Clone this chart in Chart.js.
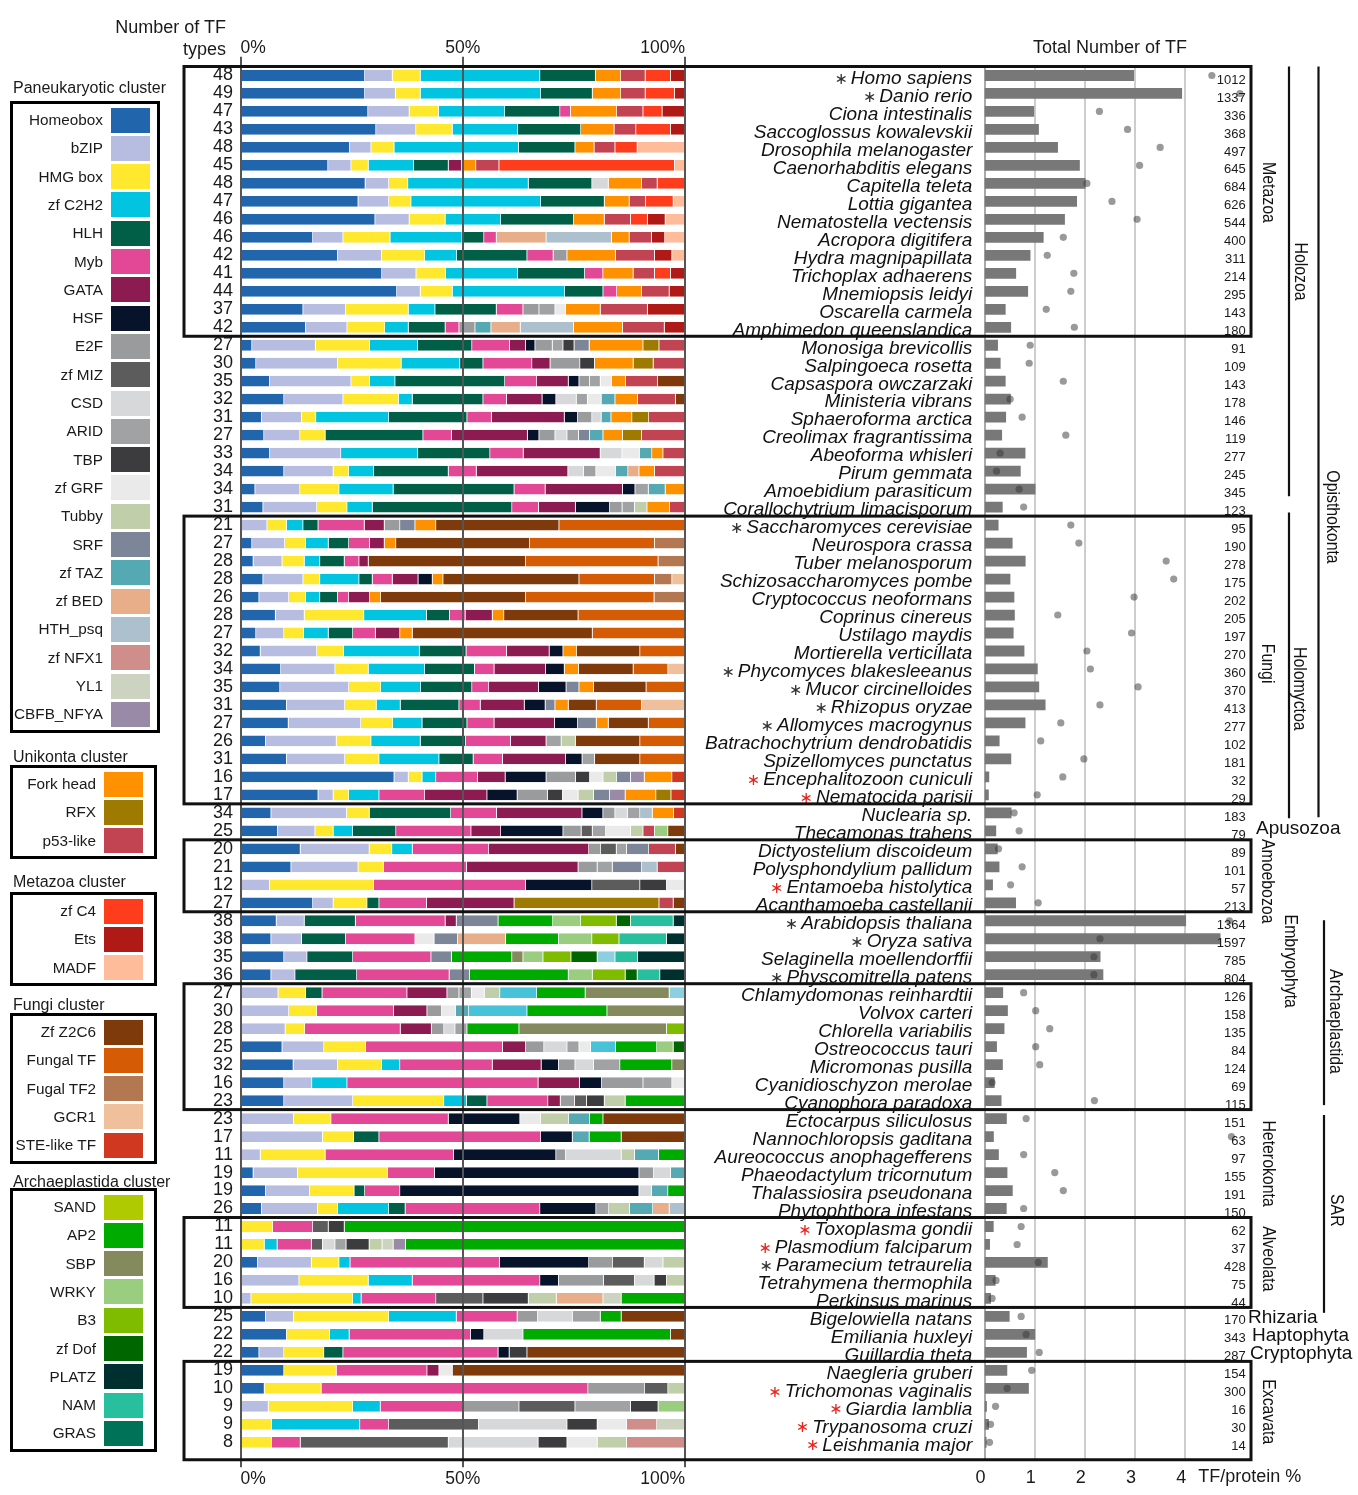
<!DOCTYPE html>
<html>
<head>
<meta charset="utf-8">
<title>Transcription factor repertoires across eukaryotes</title>
<script src="https://cdn.jsdelivr.net/npm/chart.js@4.4.1/dist/chart.umd.min.js"></script>
<style>
  html, body { margin: 0; padding: 0; background: #fff; }
  #page { position: relative; width: 1358px; height: 1495px; overflow: hidden;
          font-family: 'Liberation Sans', Arial, Helvetica, sans-serif; color: #1a1a1a; }
  #page canvas { position: absolute; left: 0; top: 0; }
  .lg-title { position: absolute; font-size: 16px; line-height: 20px; white-space: nowrap; z-index: 3; }
  .lg-box { position: absolute; border: 3px solid #000; box-sizing: border-box; z-index: 3; }
  .lg-label { position: absolute; font-size: 15.3px; line-height: 20px; white-space: nowrap; text-align: right; z-index: 3; }
  .lg-swatch { position: absolute; z-index: 3; }
  .hdr { position: absolute; font-size: 18px; line-height: 22px; white-space: nowrap; text-align: right; z-index: 3; }
</style>
</head>
<body>
<div id="page">
  <canvas id="shares" width="1358" height="1495"></canvas>
  <canvas id="totals" width="1358" height="1495"></canvas>
  <div class="hdr" style="right:1132px; top:16px;">Number of TF</div>
  <div class="hdr" style="right:1132px; top:38px;">types</div>
</div>
<script>
// ---------------------------------------------------------------------------
// Species (rows, top to bottom)
// ---------------------------------------------------------------------------
const species = [
  'Homo sapiens','Danio rerio','Ciona intestinalis','Saccoglossus kowalevskii','Drosophila melanogaster',
  'Caenorhabditis elegans','Capitella teleta','Lottia gigantea','Nematostella vectensis','Acropora digitifera',
  'Hydra magnipapillata','Trichoplax adhaerens','Mnemiopsis leidyi','Oscarella carmela','Amphimedon queenslandica',
  'Monosiga brevicollis','Salpingoeca rosetta','Capsaspora owczarzaki','Ministeria vibrans','Sphaeroforma arctica',
  'Creolimax fragrantissima','Abeoforma whisleri','Pirum gemmata','Amoebidium parasiticum','Corallochytrium limacisporum',
  'Saccharomyces cerevisiae','Neurospora crassa','Tuber melanosporum','Schizosaccharomyces pombe','Cryptococcus neoformans',
  'Coprinus cinereus','Ustilago maydis','Mortierella verticillata','Phycomyces blakesleeanus','Mucor circinelloides',
  'Rhizopus oryzae','Allomyces macrogynus','Batrachochytrium dendrobatidis','Spizellomyces punctatus','Encephalitozoon cuniculi',
  'Nematocida parisii',
  'Nuclearia sp.','Thecamonas trahens',
  'Dictyostelium discoideum','Polysphondylium pallidum','Entamoeba histolytica','Acanthamoeba castellanii',
  'Arabidopsis thaliana','Oryza sativa','Selaginella moellendorffii','Physcomitrella patens',
  'Chlamydomonas reinhardtii','Volvox carteri','Chlorella variabilis','Ostreococcus tauri','Micromonas pusilla',
  'Cyanidioschyzon merolae','Cyanophora paradoxa',
  'Ectocarpus siliculosus','Nannochloropsis gaditana','Aureococcus anophagefferens','Phaeodactylum tricornutum',
  'Thalassiosira pseudonana','Phytophthora infestans',
  'Toxoplasma gondii','Plasmodium falciparum','Paramecium tetraurelia','Tetrahymena thermophila','Perkinsus marinus',
  'Bigelowiella natans','Emiliania huxleyi','Guillardia theta',
  'Naegleria gruberi','Trichomonas vaginalis','Giardia lamblia','Trypanosoma cruzi','Leishmania major'
];

// Number of TF types per species
const typeCounts = [
  48,49,47,43,48,45,48,47,46,46,42,41,44,37,42,
  27,30,35,32,31,27,33,34,34,31,
  21,27,28,28,26,28,27,32,34,35,31,27,26,31,16,17,
  34,25,
  20,21,12,27,
  38,38,35,36,
  27,30,28,25,32,16,23,
  23,17,11,19,19,26,
  11,11,20,16,10,
  25,22,22,
  19,10,9,9,8
];

// Total number of TFs per species
const totalTF = [
  1012,1337,336,368,497,645,684,626,544,400,311,214,295,143,180,
  91,109,143,178,146,119,277,245,345,123,
  95,190,278,175,202,205,197,270,360,370,413,277,102,181,32,29,
  183,79,
  89,101,57,213,
  1364,1597,785,804,
  126,158,135,84,124,69,115,
  151,63,97,155,191,150,
  62,37,428,75,44,
  170,343,287,
  154,300,16,30,14
];

// TFs as a share of the proteome (%)
const tfProteinPct = [
  4.53,5.09,2.29,2.85,3.50,3.09,2.04,2.54,3.04,1.57,1.25,1.78,1.72,1.23,1.79,
  0.91,0.89,1.57,0.51,0.75,1.62,0.31,0.24,0.69,0.78,
  1.72,1.88,3.62,3.77,2.98,1.46,2.93,2.04,2.11,3.06,2.30,1.52,1.12,1.98,1.56,1.05,
  0.59,0.69,
  0.28,0.75,0.52,1.07,
  4.88,2.30,2.18,2.18,
  0.78,1.02,1.30,1.02,1.10,0.15,2.19,
  0.83,4.92,0.78,1.40,1.57,0.78,
  0.73,0.65,1.07,0.23,0.15,
  0.73,0.83,1.09,
  0.94,0.45,0.22,0.12,0.10
];

const markedBlack = ['Homo sapiens','Danio rerio','Saccharomyces cerevisiae','Phycomyces blakesleeanus',
  'Mucor circinelloides','Rhizopus oryzae','Allomyces macrogynus','Arabidopsis thaliana','Oryza sativa',
  'Physcomitrella patens','Paramecium tetraurelia'];
const markedRed = ['Encephalitozoon cuniculi','Nematocida parisii','Entamoeba histolytica','Toxoplasma gondii',
  'Plasmodium falciparum','Trichomonas vaginalis','Giardia lamblia','Trypanosoma cruzi','Leishmania major'];

const percentTicks = [0, 50, 100];
const ratioTicks = [0, 1, 2, 3, 4];

// ---------------------------------------------------------------------------
// Share of each TF family in every species (% of TFs). Rows grouped by clade:
// Metazoa | other Holozoa | Fungi | Nuclearia, Thecamonas | Amoebozoa |
// Embryophyta | algae | Heterokonta | Alveolata | Rhizaria, Haptophyta, Cryptophyta | Excavata
// ---------------------------------------------------------------------------
const homeobox = [
  28.0,28.0,28.7,30.5,24.6,19.7,28.1,26.5,30.3,16.3,21.9,31.8,35.2,14.1,14.7,
  2.6,3.5,6.6,9.8,4.8,5.3,6.6,9.8,3.3,5.1,
  0,2.6,2.9,5.1,4.2,7.9,3.5,4.5,9.1,8.9,10.4,10.8,5.7,10.4,34.6,17.5,
  6.9,8.4,
  13.5,11.4,0,16.3,
  8.1,6.9,9.8,6.9,
  0,0,0,9.4,11.9,9.8,9.8,
  0,0,0,2.9,5.7,4.8,
  0,0,3.9,0,0,
  5.7,10.4,4.2,
  9.8,5.4,0,0,0
];
const bzip = [
  6.2,6.9,9.3,9.0,4.8,5.2,5.3,6.9,7.7,6.8,9.9,7.7,5.3,9.6,9.3,
  14.3,18.4,18.3,13.3,9.0,8.1,16.0,11.1,10.1,12.1,
  6.0,7.4,6.5,9.0,6.7,6.5,6.3,12.7,12.2,15.5,13.1,16.3,15.9,13.1,3.2,3.4,
  17.0,8.4,
  15.5,15.1,6.6,4.6,
  6.3,6.9,5.2,5.4,
  8.5,10.9,10.1,9.4,10.0,6.3,15.5,
  12.0,18.5,4.5,10.0,9.9,12.6,
  0,0,12.1,13.2,2.4,
  6.3,0,5.6,
  0,0,6.3,0,0
];
const hmgBox = [
  6.3,5.6,6.6,8.2,5.2,3.9,4.3,5.0,8.1,10.6,9.7,6.6,7.2,14.1,8.5,
  12.2,14.3,4.2,12.5,3.2,5.7,0,3.5,8.8,6.8,
  4.4,4.7,5.0,3.8,3.8,13.4,4.4,6.0,7.5,7.2,7.1,7.2,7.8,7.7,3.1,3.5,
  5.1,4.1,
  5.1,5.7,23.4,7.6,
  0,0,0,0,
  6.2,6.3,4.4,9.4,9.9,0,20.5,
  8.4,7.0,14.6,20.2,10.0,4.5,
  7.3,5.4,6.2,15.6,22.9,
  21.4,9.7,9.0,
  11.8,12.8,19.0,7.0,7.0
];
const zfC2H2 = [
  26.9,27.1,14.9,14.7,28.0,10.2,27.1,29.2,12.5,16.2,7.2,16.2,25.3,6.0,5.3,
  10.8,13.2,5.7,3.1,16.4,0,17.3,5.6,12.2,5.7,
  3.7,5.1,3.5,8.8,3.2,14.1,5.6,17.1,12.7,9.0,5.4,6.6,11.1,13.5,3.1,6.8,
  0,4.4,
  4.6,0,0,0,
  0,0,0,0,
  0,0,0,0,4.1,7.9,5.1,
  0,0,0,0,0,11.5,
  0,2.9,2.5,9.9,1.9,
  15.2,4.4,0,
  0,0,6.2,19.9,0
];
const hlh = [
  12.5,11.6,12.4,14.2,12.7,7.8,14.3,14.3,16.4,4.9,15.8,15.1,8.6,13.8,8.3,
  12.2,5.2,24.7,15.9,17.6,22.0,16.2,16.8,27.2,31.4,
  3.4,4.6,5.5,3.0,4.0,5.2,5.5,10.5,11.2,11.5,13.2,10.1,10.2,7.7,0,0,
  18.3,9.7,
  0,0,0,2.7,
  11.5,9.9,10.3,13.9,
  3.7,0,0,0,0,0,4.6,
  0,5.7,0,0,2.4,3.7,
  0,0,0,0,0,
  0,0,4.3,
  0,0,0,0,0
];
const myb = [
  0,0,2.4,0,0,0,0,0,0,2.8,5.9,4.1,3.1,6.0,3.1,
  8.5,11.0,7.2,5.3,5.5,6.4,7.5,6.3,7.0,6.0,
  10.4,4.7,3.3,4.5,2.5,3.5,5.1,9.1,4.4,3.8,4.8,6.1,10.1,6.6,9.4,10.3,
  10.3,16.9,
  17.2,18.7,34.2,10.7,
  20.2,15.6,17.6,20.8,
  19.1,17.3,21.5,30.8,20.8,43.0,13.7,
  26.4,36.4,28.9,10.6,7.9,30.3,
  9.0,7.7,33.6,28.7,16.8,
  13.7,27.3,34.9,
  20.4,60.0,18.6,6.5,6.5
];
const gata = [
  0,0,0,0,0,3.0,0,0,0,0,0,0,0,0,0,
  3.6,4.1,7.1,8.0,16.4,17.1,17.3,20.6,17.4,8.3,
  4.5,3.3,2.1,5.8,4.7,6.1,5.5,9.6,11.6,11.2,9.9,13.6,8.0,14.2,6.2,14.0,
  19.2,6.7,
  22.5,25.1,0,19.7,
  2.5,0,0,0,
  9.0,7.5,7.0,5.2,11.0,9.3,2.8,
  0,0,0,0,0,0,
  0,0,0,0,0,
  0,0,0,
  2.7,0,0,0,0
];
const hsf = [
  0,0,0,0,0,0,0,0,0,0,0,0,0,0,0,
  2.1,0,2.4,3.1,3.0,2.6,0,0,2.8,7.7,
  0,0,0,3.2,0,0,0,3.1,4.2,6.2,4.7,5.2,0,3.7,9.2,6.8,
  4.7,14.0,
  0,0,14.9,0,
  0,0,0,0,
  0,0,0,0,3.9,5.0,0,
  16.1,7.1,23.0,46.0,53.8,12.6,
  0,0,20.1,4.2,0,
  0,3.0,2.5,
  0,0,0,0,0
];
const e2f = [
  0,0,0,0,0,0,0,0,0,0,3.1,0,0,3.6,3.6,
  3.9,6.7,2.4,0,3.2,3.6,0,0,0,2.8,
  3.5,0,0,0,0,0,0,0,0,0,0,0,0,0,6.6,6.8,
  2.7,4.1,
  2.7,4.3,0,0,
  0,0,0,0,
  2.7,3.3,2.8,4.1,3.7,9.3,3.2,
  0,0,2.2,3.3,0,0,
  0,0,5.4,10.1,0,
  4.6,0,0,
  0,12.8,12.6,0,0
];
const zfMIZ = [
  0,0,0,0,0,0,0,0,0,0,0,0,0,0,0,
  0,0,0,0,0,0,0,0,0,0,
  0,0,0,0,0,0,0,0,0,0,0,0,0,0,0,0,
  0,2.5,
  3.5,0,10.8,0,
  0,0,0,0,
  0,0,0,0,0,0,2.7,
  0,0,0,0,0,0,
  3.5,2.5,7.1,7.0,10.6,
  0,0,0,
  0,5.2,12.6,20.2,33.3
];
const csd = [
  0,0,0,0,0,0,3.7,0,0,0,0,0,0,0,0,
  0,0,0,4.6,2.1,2.7,4.9,3.5,0,0,
  0,0,0,0,0,0,0,0,0,0,0,0,0,0,0,0,
  2.8,0,
  0,0,0,0,
  0,0,0,0,
  0,0,2.5,5.2,4.2,0,0,
  0,0,12.5,3.8,2.8,0,
  0,2.8,4.2,4.4,0,
  7.8,8.8,0,
  0,0,0,19.9,20.2
];
const arid = [
  0,0,0,0,0,0,0,0,0,0,0,0,0,3.6,0,
  2.4,0,2.4,2.5,0,2.6,0,2.8,3.0,2.8,
  0,0,0,0,0,0,0,0,0,0,0,0,3.4,2.8,0,0,
  2.8,3.0,
  2.3,3.4,0,0,
  0,0,0,0,
  2.8,0,2.7,2.7,5.9,6.5,0,
  0,0,0,0,0,2.9,
  0,2.5,0,0,0,
  6.3,0,0,
  0,0,12.5,0,0
];
const tbp = [
  0,0,0,0,0,0,0,0,0,0,0,0,0,0,0,
  2.5,3.3,0,0,0,0,0,0,0,0,
  0,0,0,0,0,0,0,0,0,0,0,0,0,0,3.2,3.4,
  0,0,
  0,0,6.0,0,
  0,0,0,0,
  0,0,0,0,0,0,4.0,
  0,0,0,0,0,0,
  3.6,5.2,0,2.8,10.2,
  0,0,4.0,
  0,0,6.2,6.8,6.5
];
const zfGRF = [
  0,0,0,0,0,0,0,0,0,0,0,0,0,2.4,0,
  0,0,2.5,3.1,0,0,3.9,4.4,0,0,
  0,0,0,0,0,0,0,0,0,0,0,0,0,0,3.0,3.5,
  0,5.6,
  0,0,4.1,0,
  0,4.3,0,0,
  2.9,3.1,0,2.6,0,2.9,0,
  4.7,0,0,0,0,0,
  0,0,0,0,0,
  0,0,0,
  3.0,0,0,6.6,6.8
];
const tubby = [
  0,0,0,0,0,0,0,0,0,0,0,0,0,0,0,
  0,0,0,0,0,0,0,0,0,2.8,
  0,0,0,0,0,0,0,0,0,0,0,0,3.2,0,3.1,3.5,
  0,2.8,
  0,0,0,0,
  0,0,0,0,
  3.5,0,0,0,0,0,4.7,
  6.3,0,3.0,0,0,4.7,
  0,2.9,4.9,4.1,6.3,
  0,0,0,
  0,3.8,0,0,6.6
];
const srf = [
  0,0,0,0,0,0,0,0,0,0,0,0,0,0,0,
  3.4,0,0,0,0,2.5,0,0,0,0,
  3.4,0,0,0,0,0,0,0,0,2.9,2.2,4.2,0,0,3.1,3.6,
  0,0,
  5.0,6.6,0,0,
  9.4,5.3,4.6,4.6,
  0,0,0,0,0,0,0,
  0,0,0,0,0,0,
  0,0,0,0,0,
  0,0,0,
  0,0,0,0,0
];
const zfTAZ = [
  0,0,0,0,0,0,0,0,0,0,0,0,0,0,3.6,
  0,0,0,3.1,2.2,3.0,2.8,2.8,3.8,0,
  0,0,0,0,0,0,0,0,0,0,0,0,0,0,0,0,
  0,0,
  0,0,0,0,
  0,0,0,0,
  0,3.0,0,0,0,0,0,
  4.7,3.8,5.4,3.2,3.7,5.2,
  0,0,0,0,0,
  0,0,0,
  0,0,0,0,0
];
const zfBED = [
  0,0,0,0,0,0,0,0,0,11.2,0,0,0,0,6.6,
  0,0,0,0,0,0,0,2.5,0,0,
  0,0,0,0,0,0,0,0,0,0,0,0,0,0,0,0,
  0,0,
  0,0,0,0,
  0,10.8,0,0,
  0,0,0,0,0,0,0,
  0,0,0,0,0,3.7,
  0,0,0,0,10.5,
  0,0,0,
  0,0,0,0,0
];
const hthPsq = [
  0,0,0,0,0,0,0,0,0,14.7,0,0,0,0,12.0,
  0,0,0,0,0,0,0,0,0,0,
  0,0,0,0,0,0,0,0,0,0,0,0,0,0,0,0,
  2.8,0,
  0,3.5,0,0,
  0,0,0,0,
  0,0,0,0,0,0,0,
  0,0,0,0,0,3.5,
  0,0,0,0,0,
  0,0,0,
  0,0,0,0,0
];
const zfNFX1 = [
  0,0,0,0,0,0,0,0,0,0,0,0,0,0,0,
  0,0,0,0,0,0,0,0,0,0,
  0,0,0,0,0,0,0,0,0,0,0,0,0,0,0,0,
  0,0,
  0,0,0,0,
  0,0,0,0,
  0,0,0,0,0,0,0,
  0,0,0,0,0,0,
  0,0,0,0,0,
  0,0,0,
  0,0,0,6.8,13.1
];
const yl1 = [
  0,0,0,0,0,0,0,0,0,0,0,0,0,0,0,
  0,0,0,0,0,0,0,0,0,0,
  0,0,0,0,0,0,0,0,0,0,0,0,0,0,0,0,
  0,0,
  0,0,0,0,
  0,0,0,0,
  0,0,0,0,0,0,0,
  0,0,0,0,0,0,
  0,2.5,0,0,4.1,
  0,0,0,
  0,0,0,6.3,0
];
const cbfbNfya = [
  0,0,0,0,0,0,0,0,0,0,0,0,0,0,0,
  0,0,0,0,0,0,0,0,0,0,
  0,0,0,0,0,0,0,0,0,0,0,0,0,0,3.1,3.5,
  0,0,
  0,0,0,0,
  0,0,0,0,
  0,0,0,0,0,0,0,
  0,0,0,0,0,0,
  0,2.8,0,0,0,
  0,0,0,
  0,0,0,0,0
];
const otherAlgal = [
  0,0,0,0,0,0,0,0,0,0,0,0,0,0,0,
  0,0,0,0,0,0,0,0,0,0,
  0,0,0,0,0,0,0,0,0,0,0,0,0,0,0,0,
  0,0,
  0,0,0,0,
  0,0,0,0,
  8.3,13.1,0,5.6,0,0,0,
  0,0,0,0,0,0,
  0,0,0,0,0,
  0,0,0,
  0,0,0,0,0
];
const forkHead = [
  5.7,6.4,10.4,7.5,4.3,3.2,7.5,5.6,6.9,4.0,10.9,6.8,5.6,7.8,11.0,
  12.1,8.7,3.2,5.1,4.7,4.4,2.5,3.5,4.4,5.1,
  4.7,2.6,0,2.4,2.5,2.6,2.8,3.1,3.2,3.3,3.0,2.7,0,0,6.2,6.9,
  4.8,0,
  0,0,0,0,
  0,0,0,0,
  0,0,0,0,0,0,0,
  0,0,0,0,0,0,
  0,0,0,0,0,
  0,0,0,
  0,0,0,0,0
];
const rfx = [
  0,0,0,0,0,0,0,0,0,0,0,0,0,0,0,
  3.6,4.5,0,0,3.8,4.3,0,0,0,0,
  0,0,0,0,0,0,0,0,0,0,0,0,0,0,0,3.4,
  0,0,
  0,0,0,32.6,
  0,0,0,0,
  0,0,0,0,0,0,0,
  0,0,0,0,0,0,
  0,0,0,0,0,
  0,0,0,
  0,0,0,0,0
];
const p53Like = [
  5.5,5.5,5.9,4.9,4.7,5.2,3.5,3.7,5.9,5.0,8.8,4.8,6.2,10.6,9.4,
  5.8,7.1,7.2,8.5,8.1,9.7,4.9,6.8,0,3.4,
  0,0,0,0,0,0,0,0,0,0,0,0,0,0,0,0,
  0,2.6,
  6.0,6.2,0,3.2,
  0,0,0,0,
  0,0,0,0,0,0,0,
  0,0,0,0,0,0,
  0,0,0,0,0,
  0,0,0,
  0,0,0,0,0
];
const zfC4 = [
  5.7,6.6,4.3,7.8,5.0,39.5,6.2,6.2,3.8,0,0,3.6,0,0,0,
  0,0,0,0,0,0,0,0,0,0,
  0,0,0,0,0,0,0,0,0,0,0,0,0,0,0,0,
  0,0,
  0,0,0,0,
  0,0,0,0,
  0,0,0,0,0,0,0,
  0,0,0,0,0,0,
  0,0,0,0,0,
  0,0,0,
  0,0,0,0,0
];
const ets = [
  3.2,2.3,5.1,3.2,0,0,0,0,4.0,3.0,3.9,3.2,3.5,8.4,4.6,
  0,0,0,0,0,0,0,0,0,0,
  0,0,0,0,0,0,0,0,0,0,0,0,0,0,0,0,
  0,0,
  0,0,0,0,
  0,0,0,0,
  0,0,0,0,0,0,0,
  0,0,0,0,0,0,
  0,0,0,0,0,
  0,0,0,
  0,0,0,0,0
];
const madf = [
  0,0,0,0,10.7,2.3,0,2.6,4.4,4.5,2.9,0,0,0,0,
  0,0,0,0,0,0,0,0,0,0,
  0,0,0,0,0,0,0,0,0,0,0,0,0,0,0,0,
  0,0,
  0,0,0,0,
  0,0,0,0,
  0,0,0,0,0,0,0,
  0,0,0,0,0,0,
  0,0,0,0,0,
  0,0,0,
  0,0,0,0,0
];
const sand = [
  0,0,0,0,0,0,0,0,0,0,0,0,0,0,0,
  0,0,0,0,0,0,0,0,0,0,
  0,0,0,0,0,0,0,0,0,0,0,0,0,0,0,0,
  0,0,
  0,0,0,0,
  0,0,0,0,
  0,0,0,0,0,0,0,
  0,0,0,0,0,0,
  0,0,0,0,0,
  0,0,0,
  0,0,0,0,0
];
const ap2 = [
  0,0,0,0,0,0,0,0,0,0,0,0,0,0,0,
  0,0,0,0,0,0,0,0,0,0,
  0,0,0,0,0,0,0,0,0,0,0,0,0,0,0,0,
  0,0,
  0,0,0,0,
  12.3,11.9,13.6,22.2,
  10.9,18.0,11.7,9.3,11.7,0,13.4,
  3.0,7.2,5.9,0,3.8,0,
  76.6,62.8,0,0,14.3,
  4.7,33.2,0,
  0,0,0,0,0
];
const sbp = [
  0,0,0,0,0,0,0,0,0,0,0,0,0,0,0,
  0,0,0,0,0,0,0,0,0,0,
  0,0,0,0,0,0,0,0,0,0,0,0,0,0,0,0,
  0,0,
  0,0,0,0,
  0,0,2.5,0,
  18.9,17.5,33.2,0,2.9,0,0,
  0,0,0,0,0,0,
  0,0,0,0,0,
  0,0,0,
  0,0,0,0,0
];
const wrky = [
  0,0,0,0,0,0,0,0,0,0,0,0,0,0,0,
  0,0,0,0,0,0,0,0,0,0,
  0,0,0,0,0,0,0,0,0,0,0,0,0,0,0,0,
  0,3.0,
  0,0,0,0,
  6.3,7.5,4.5,5.4,
  0,0,0,3.7,0,0,0,
  0,0,0,0,0,0,
  0,0,0,0,0,
  0,0,0,
  0,0,6.0,0,0
];
const b3 = [
  0,0,0,0,0,0,0,0,0,0,0,0,0,0,0,
  0,0,0,0,0,0,0,0,0,0,
  0,0,0,0,0,0,0,0,0,0,0,0,0,0,0,0,
  0,0,
  0,0,0,0,
  8.0,6.1,6.3,7.4,
  0,0,4.1,0,0,0,0,
  0,0,0,0,0,0,
  0,0,0,0,0,
  0,0,0,
  0,0,0,0,0
];
const zfDof = [
  0,0,0,0,0,0,0,0,0,0,0,0,0,0,0,
  0,0,0,0,0,0,0,0,0,0,
  0,0,0,0,0,0,0,0,0,0,0,0,0,0,0,0,
  0,0,
  0,0,0,0,
  3.2,0,5.9,2.7,
  0,0,0,2.6,0,0,0,
  0,0,0,0,0,0,
  0,0,0,0,0,
  0,0,0,
  0,0,0,0,0
];
const otherPlant = [
  0,0,0,0,0,0,0,0,0,0,0,0,0,0,0,
  0,0,0,0,0,0,0,0,0,0,
  0,0,0,0,0,0,0,0,0,0,0,0,0,0,0,0,
  0,0,
  0,0,0,0,
  0,0,4.0,0,
  3.5,0,0,0,0,0,0,
  0,0,0,0,0,0,
  0,0,0,0,0,
  0,0,0,
  0,0,0,0,0
];
const nam = [
  0,0,0,0,0,0,0,0,0,0,0,0,0,0,0,
  0,0,0,0,0,0,0,0,0,0,
  0,0,0,0,0,0,0,0,0,0,0,0,0,0,0,0,
  0,0,
  0,0,0,0,
  9.6,10.7,5.1,5.1,
  0,0,0,0,0,0,0,
  0,0,0,0,0,0,
  0,0,0,0,0,
  0,0,0,
  0,0,0,0,0
];
const platz = [
  0,0,0,0,0,0,0,0,0,0,0,0,0,0,0,
  0,0,0,0,0,0,0,0,0,0,
  0,0,0,0,0,0,0,0,0,0,0,0,0,0,0,0,
  0,0,
  0,0,0,0,
  2.6,4.1,10.6,5.6,
  0,0,0,0,0,0,0,
  0,0,0,0,0,0,
  0,0,0,0,0,
  0,0,0,
  0,0,0,0,0
];
const gras = [
  0,0,0,0,0,0,0,0,0,0,0,0,0,0,0,
  0,0,0,0,0,0,0,0,0,0,
  0,0,0,0,0,0,0,0,0,0,0,0,0,0,0,0,
  0,0,
  0,0,0,0,
  0,0,0,0,
  0,0,0,0,0,0,0,
  0,0,0,0,0,0,
  0,0,0,0,0,
  0,0,0,
  0,0,0,0,0
];
const zfZ2C6 = [
  0,0,0,0,0,0,0,0,0,0,0,0,0,0,0,
  0,0,6.1,2.1,0,0,0,0,0,0,
  27.7,30.1,35.4,30.6,32.6,16.7,40.5,14.2,12.3,11.8,6.3,9.0,14.5,10.2,0,0,
  0,3.8,
  2.1,0,0,2.6,
  0,0,0,0,
  0,0,0,0,0,0,0,
  18.4,14.3,0,0,0,0,
  0,0,0,0,0,
  14.3,3.2,35.5,
  52.3,0,0,0,0
];
const fungalTF = [
  0,0,0,0,0,0,0,0,0,0,0,0,0,0,0,
  0,0,0,0,0,0,0,0,0,0,
  28.3,28.1,29.8,17.0,28.9,24.0,20.8,10.1,7.8,8.7,10.2,8.2,10.1,10.1,0,0,
  0,0,
  0,0,0,0,
  0,0,0,0,
  0,0,0,0,0,0,0,
  0,0,0,0,0,0,
  0,0,0,0,0,
  0,0,0,
  0,0,0,0,0
];
const fungalTF2 = [
  0,0,0,0,0,0,0,0,0,0,0,0,0,0,0,
  0,0,0,0,0,0,0,0,0,0,
  0,6.8,6.0,3.9,6.9,0,0,0,0,0,0,0,0,0,0,0,
  0,0,
  0,0,0,0,
  0,0,0,0,
  0,0,0,0,0,0,0,
  0,0,0,0,0,0,
  0,0,0,0,0,
  0,0,0,
  0,0,0,0,0
];
const gcr1 = [
  0,0,0,0,0,0,0,0,0,0,0,0,0,0,0,
  0,0,0,0,0,0,0,0,0,0,
  0,0,0,2.9,0,0,0,0,3.8,0,9.7,0,0,0,0,0,
  0,0,
  0,0,0,0,
  0,0,0,0,
  0,0,0,0,0,0,0,
  0,0,0,0,0,0,
  0,0,0,0,0,
  0,0,0,
  0,0,0,0,0
];
const steLike = [
  0,0,0,0,0,0,0,0,0,0,0,0,0,0,0,
  0,0,0,0,0,0,0,0,0,0,
  0,0,0,0,0,0,0,0,0,0,0,0,0,0,2.9,3.1,
  2.5,0,
  0,0,0,0,
  0,0,0,0,
  0,0,0,0,0,0,0,
  0,0,0,0,0,0,
  0,0,0,0,0,
  0,0,0,
  0,0,0,0,0
];

// ---------------------------------------------------------------------------
// Family palette and stacking order
// ---------------------------------------------------------------------------
const familyColors = {
  'Homeobox': '#2166ac', 'bZIP': '#b6bde0', 'HMG box': '#ffe82e', 'zf C2H2': '#00c4e0',
  'HLH': '#005f46', 'Myb': '#e24895', 'GATA': '#8c1b52', 'HSF': '#07132b',
  'E2F': '#9a9b9d', 'zf MIZ': '#5c5c5c', 'CSD': '#d7d8da', 'ARID': '#a1a2a4',
  'TBP': '#3c3c3e', 'zf GRF': '#e9eae9', 'Tubby': '#c0cfaa', 'SRF': '#7c8698',
  'zf TAZ': '#55a9b2', 'zf BED': '#e8ad89', 'HTH_psq': '#adc0ce', 'zf NFX1': '#d08e8b',
  'YL1': '#ccd4c1', 'CBFB_NFYA': '#998aa8', 'Other (algal)': '#47c2d9',
  'Fork head': '#ff9100', 'RFX': '#9e7a00', 'p53-like': '#c24352',
  'zf C4': '#ff3d1c', 'Ets': '#af1a17', 'MADF': '#ffbc9b',
  'SAND': '#afca00', 'AP2': '#00ab00', 'SBP': '#858a5e', 'WRKY': '#9acd7f', 'B3': '#7fbc00',
  'zf Dof': '#006600', 'Other (plant)': '#8ccfe0', 'NAM': '#27bf9d', 'PLATZ': '#002f2f', 'GRAS': '#007257',
  'Zf Z2C6': '#7e3a0b', 'Fungal TF': '#d55c05', 'Fugal TF2': '#b37751', 'GCR1': '#f0c09c', 'STE-like TF': '#d0381f'
};

const familySeries = [
  ['Homeobox', homeobox], ['bZIP', bzip], ['HMG box', hmgBox], ['zf C2H2', zfC2H2], ['HLH', hlh],
  ['Myb', myb], ['GATA', gata], ['HSF', hsf], ['E2F', e2f], ['zf MIZ', zfMIZ], ['CSD', csd],
  ['ARID', arid], ['TBP', tbp], ['zf GRF', zfGRF], ['Tubby', tubby], ['SRF', srf], ['zf TAZ', zfTAZ],
  ['zf BED', zfBED], ['HTH_psq', hthPsq], ['zf NFX1', zfNFX1], ['YL1', yl1], ['CBFB_NFYA', cbfbNfya],
  ['Other (algal)', otherAlgal],
  ['Fork head', forkHead], ['RFX', rfx], ['p53-like', p53Like],
  ['zf C4', zfC4], ['Ets', ets], ['MADF', madf],
  ['SAND', sand], ['AP2', ap2], ['SBP', sbp], ['WRKY', wrky], ['B3', b3], ['zf Dof', zfDof],
  ['Other (plant)', otherPlant], ['NAM', nam], ['PLATZ', platz], ['GRAS', gras],
  ['Zf Z2C6', zfZ2C6], ['Fungal TF', fungalTF], ['Fugal TF2', fungalTF2], ['GCR1', gcr1], ['STE-like TF', steLike]
];

const legendGroups = [
  { title: 'Paneukaryotic cluster', names: ['Homeobox','bZIP','HMG box','zf C2H2','HLH','Myb','GATA','HSF','E2F','zf MIZ',
      'CSD','ARID','TBP','zf GRF','Tubby','SRF','zf TAZ','zf BED','HTH_psq','zf NFX1','YL1','CBFB_NFYA'] },
  { title: 'Unikonta cluster', names: ['Fork head','RFX','p53-like'] },
  { title: 'Metazoa cluster', names: ['zf C4','Ets','MADF'] },
  { title: 'Fungi cluster', names: ['Zf Z2C6','Fungal TF','Fugal TF2','GCR1','STE-like TF'] },
  { title: 'Archaeplastida cluster', names: ['SAND','AP2','SBP','WRKY','B3','zf Dof','PLATZ','NAM','GRAS'] }
];

// ---------------------------------------------------------------------------
// Layout of the legend panels (page pixels)
// ---------------------------------------------------------------------------
const legendLayout = [
  { titleY: 88,   firstRow: 120,  swatchX: 111, boxRight: 160 },
  { titleY: 757,  firstRow: 784,  swatchX: 104, boxRight: 157 },
  { titleY: 882,  firstRow: 911,  swatchX: 104, boxRight: 157 },
  { titleY: 1005, firstRow: 1032, swatchX: 104, boxRight: 157 },
  { titleY: 1182, firstRow: 1207, swatchX: 104, boxRight: 157 }
];
const ROW_STEP = 28.3;

const page = document.getElementById('page');
function addDiv(cls, css, text) {
  const d = document.createElement('div');
  d.className = cls;
  Object.assign(d.style, css);
  if (text !== undefined) d.textContent = text;
  page.appendChild(d);
  return d;
}
legendGroups.forEach((g, gi) => {
  const L = legendLayout[gi];
  addDiv('lg-title', { left: '13px', top: (L.titleY - 10) + 'px' }, g.title);
  const lastRow = L.firstRow + (g.names.length - 1) * ROW_STEP;
  const top = L.firstRow - 19, bottom = lastRow + 18.5;
  addDiv('lg-box', { left: '10px', top: top + 'px', width: (L.boxRight - 10) + 'px', height: (bottom - top) + 'px' });
  g.names.forEach((name, k) => {
    const cy = L.firstRow + k * ROW_STEP;
    addDiv('lg-swatch', { left: L.swatchX + 'px', top: (cy - 12.5) + 'px', width: '39px', height: '25px',
      background: familyColors[name] });
    addDiv('lg-label', { right: (1358 - L.swatchX + 8) + 'px', top: (cy - 10) + 'px' }, name);
  });
});

// ---------------------------------------------------------------------------
// Stacked percentage bars (share of each family)
// ---------------------------------------------------------------------------
const FONT = "'Liberation Sans', Arial, Helvetica, sans-serif";
Chart.defaults.font.family = FONT;
Chart.defaults.color = '#1a1a1a';

const rowSums = species.map((_, i) => familySeries.reduce((s, f) => s + f[1][i], 0));

new Chart(document.getElementById('shares'), {
  type: 'bar',
  data: {
    labels: species,
    datasets: familySeries.map(([name, values]) => ({
      label: name,
      data: values.map((v, i) => v / rowSums[i] * 100),
      backgroundColor: familyColors[name],
      borderColor: 'rgba(255,255,255,0.85)',
      borderWidth: { top: 0, bottom: 0, left: 0, right: 0.7 },
      borderSkipped: false,
      barPercentage: 0.6,
      categoryPercentage: 1,
      stack: 'share'
    }))
  },
  options: {
    indexAxis: 'y',
    responsive: false,
    animation: false,
    devicePixelRatio: 1,
    layout: { padding: { left: 0, right: 673, top: 0, bottom: 0 } },
    plugins: { legend: { display: false }, tooltip: { enabled: false } },
    scales: {
      y: {
        stacked: true,
        offset: true,
        grid: { display: false, drawTicks: false },
        border: { display: false },
        ticks: { autoSkip: false, padding: 7.5, color: '#1a1a1a', font: { size: 18 },
                 callback: (v, i) => typeCounts[i] },
        afterFit: s => { s.width = 240.5; }
      },
      x: {
        type: 'linear', stacked: true, min: 0, max: 100, position: 'bottom',
        border: { display: false },
        grid: { color: '#555', lineWidth: 2, tickLength: 16, z: 1 },
        ticks: { align: 'inner', padding: 1.5, font: { size: 17.5 }, color: '#1a1a1a', callback: v => v + '%' },
        afterBuildTicks: s => { s.ticks = percentTicks.map(v => ({ value: v })); },
        afterFit: s => { s.height = 43.7; }
      },
      xTop: {
        type: 'linear', min: 0, max: 100, position: 'top',
        border: { display: false },
        grid: { drawOnChartArea: false, color: '#555', lineWidth: 2, tickLength: 9.8, z: 1 },
        ticks: { align: 'inner', padding: -1.5, font: { size: 17.5 }, color: '#1a1a1a', callback: v => v + '%' },
        afterBuildTicks: s => { s.ticks = percentTicks.map(v => ({ value: v })); },
        afterFit: s => { s.height = 66.5; }
      }
    }
  }
});

// ---------------------------------------------------------------------------
// Totals panel: bars = number of TFs, dots = TF / protein %
// ---------------------------------------------------------------------------
// Framed clades (row boundaries) and bracketed clades on the right
const framedRows = [[-0.5, 14.5], [24.5, 40.5], [42.5, 46.5], [50.5, 57.5], [63.5, 68.5], [71.5, 76.97]];
const cladeBrackets = [
  { dx: 38.5, from: -0.5, to: 23.4 },   // Holozoa
  { dx: 68,   from: -0.5, to: 41.25 },  // Opisthokonta
  { dx: 38.5, from: 24.3, to: 41.3 },   // Holomycota
  { dx: 73.5, from: 46.97, to: 57.25 }, // Archaeplastida
  { dx: 73.5, from: 57.8, to: 68.8 }    // SAR
];
const cladeNames = [
  { text: 'Metazoa', dx: 17.5, row: 6.5, vertical: true },
  { text: 'Holozoa', dx: 49.5, row: 10.9, vertical: true },
  { text: 'Opisthokonta', dx: 81.5, row: 24.55, vertical: true },
  { text: 'Fungi', dx: 16.5, row: 32.7, vertical: true },
  { text: 'Holomyctoa', dx: 48.5, row: 34.1, vertical: true },
  { text: 'Amoebozoa', dx: 16.5, row: 44.8, vertical: true },
  { text: 'Embryophyta', dx: 39.5, row: 49.25, vertical: true },
  { text: 'Archaeplastida', dx: 84.5, row: 52.6, vertical: true },
  { text: 'Heterokonta', dx: 17.5, row: 60.5, vertical: true },
  { text: 'SAR', dx: 85.5, row: 63.1, vertical: true },
  { text: 'Alveolata', dx: 17.5, row: 65.8, vertical: true },
  { text: 'Excavata', dx: 17.5, row: 74.3, vertical: true },
  { text: 'Apusozoa', dx: 5.5, row: 41.85, vertical: false },
  { text: 'Rhizaria', dx: -2.5, row: 69, vertical: false },
  { text: 'Haptophyta', dx: 1.5, row: 70, vertical: false },
  { text: 'Cryptophyta', dx: -0.5, row: 71, vertical: false }
];

const annotations = {
  id: 'annotations',
  afterDraw(chart) {
    const { ctx, chartArea: area, scales: { y, xPct } } = chart;
    const py = v => y.getPixelForValue(v);
    ctx.save();
    ctx.textBaseline = 'middle';

    // species names, right-aligned against the panel
    const nameRight = area.left - 12.2;
    species.forEach((name, i) => {
      const yy = py(i) + 3;
      ctx.font = `italic 19px ${FONT}`;
      ctx.fillStyle = '#111';
      ctx.textAlign = 'right';
      ctx.fillText(name, nameRight, yy);
      const markColor = markedBlack.includes(name) ? '#333' : markedRed.includes(name) ? '#e8241d' : null;
      if (markColor) {
        const w = ctx.measureText(name).width;
        ctx.font = "16px 'DejaVu Sans', sans-serif";
        ctx.fillStyle = markColor;
        ctx.fillText('\u2217', nameRight - w - 3, yy + 1);
      }
    });

    // totals printed next to the bars
    ctx.font = `13px ${FONT}`;
    ctx.fillStyle = '#1a1a1a';
    ctx.textAlign = 'right';
    totalTF.forEach((n, i) => ctx.fillText(String(n), area.right - 4.8, py(i) + 4.5));

    // panel header and axis title
    ctx.font = `18px ${FONT}`;
    ctx.textAlign = 'center';
    ctx.fillText('Total Number of TF', xPct.getPixelForValue(2.5), 48);
    ctx.textAlign = 'left';
    ctx.fillText('TF/protein %', xPct.getPixelForValue(4) + 13, 1477);

    // frames around clades
    ctx.strokeStyle = '#111';
    ctx.lineWidth = 3;
    framedRows.forEach(([a, b]) => {
      const top = py(a), bottom = py(b);
      ctx.strokeRect(184, top, area.right + 0.5 - 184, bottom - top);
    });

    // clade brackets
    ctx.lineWidth = 2.2;
    cladeBrackets.forEach(br => {
      const x = area.right + br.dx;
      ctx.beginPath();
      ctx.moveTo(x, py(br.from));
      ctx.lineTo(x, py(br.to));
      ctx.stroke();
    });

    // clade names
    ctx.fillStyle = '#111';
    cladeNames.forEach(c => {
      const x = area.right + c.dx;
      const yy = py(c.row);
      if (c.vertical) {
        ctx.save();
        ctx.translate(x, yy);
        ctx.rotate(Math.PI / 2);
        ctx.scale(0.88, 1);
        ctx.font = `18px ${FONT}`;
        ctx.textAlign = 'center';
        ctx.fillText(c.text, 0, 0);
        ctx.restore();
      } else {
        ctx.font = `19px ${FONT}`;
        ctx.textAlign = 'left';
        ctx.fillText(c.text, x, yy + 1);
      }
    });
    ctx.restore();
  }
};

new Chart(document.getElementById('totals'), {
  type: 'bar',
  data: {
    labels: species,
    datasets: [
      {
        type: 'line',
        label: 'TF/protein %',
        data: tfProteinPct,
        indexAxis: 'y',
        xAxisID: 'xPct',
        yAxisID: 'y',
        showLine: false,
        pointRadius: 3.6,
        pointBorderWidth: 0,
        pointBackgroundColor: 'rgba(51,51,51,0.5)',
        order: 0
      },
      {
        type: 'bar',
        label: 'Total number of TF',
        data: totalTF,
        xAxisID: 'xCount',
        yAxisID: 'y',
        backgroundColor: '#787878',
        barPercentage: 0.6,
        categoryPercentage: 1,
        order: 1
      }
    ]
  },
  options: {
    indexAxis: 'y',
    responsive: false,
    animation: false,
    devicePixelRatio: 1,
    layout: { padding: { left: 984.5, right: 107.5, top: 66.5, bottom: 0 } },
    plugins: { legend: { display: false }, tooltip: { enabled: false } },
    scales: {
      y: { type: 'category', display: false, offset: true },
      xCount: { type: 'linear', display: false, min: 0, max: 1800, position: 'bottom' },
      xPct: {
        type: 'linear', min: 0, max: 5.3, position: 'bottom',
        border: { display: false },
        grid: { lineWidth: 2, tickLength: 8,
                color: c => (c.tick && c.tick.value === 0) ? '#a9a9a9' : '#cdcdcd' },
        ticks: { font: { size: 18 }, color: '#1a1a1a', padding: 7.5, labelOffset: -4 },
        afterBuildTicks: s => { s.ticks = ratioTicks.map(v => ({ value: v })); },
        afterFit: s => { s.height = 43.7; }
      }
    }
  },
  plugins: [annotations]
});
</script>
</body>
</html>
